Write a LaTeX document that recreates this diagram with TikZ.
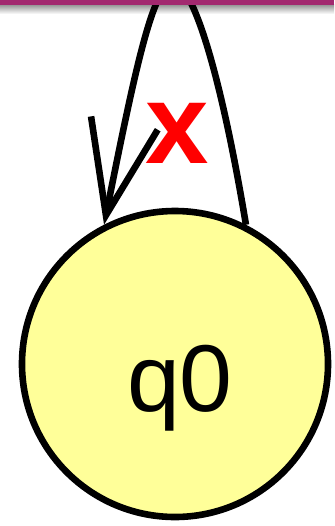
\documentclass[tikz,border=0pt]{standalone}
\usepackage{fontspec}
\setsansfont{Liberation Sans}
\usetikzlibrary{arrows.meta}
\definecolor{stateyel}{HTML}{FFFF99}
\definecolor{barplum}{HTML}{A2286F}
\definecolor{xred}{HTML}{FF0000}

\begin{document}
\begin{tikzpicture}[x=0.5pt, y=-0.5pt,
  font=\sffamily, >={Straight Barb[length=47pt, width=34pt]},
  state/.style={circle, draw, line width=3.3pt, fill=stateyel, minimum size=153pt, inner sep=0pt,
    text height=47pt, text depth=0pt, font=\fontsize{47.5}{50}\selectfont\sffamily},
  loopline/.style={line width=3.3pt},
  trans/.style={text=xred, inner sep=0pt, font=\fontsize{57}{60}\selectfont\sffamily\bfseries}]
\useasboundingbox (0,0) rectangle (334,526);
\clip (0,0) rectangle (334,526);
% window edge
\shade[top color=black!45, bottom color=white] (0,4) rectangle (334,14);
\node[state] (q0) at (175,364) {\hspace{5pt}q0};
\coordinate (apex) at (173,-17);
\draw[loopline, ->] (q0.63) .. controls +(-25,-150) and +(20,0) .. (apex)
  .. controls +(-20,0) and +(30,-150) .. (q0.117);
\node[trans] (sym) at (177,133) {x};
\fill[barplum] (0,0) rectangle (334,5);
\end{tikzpicture}
\end{document}
